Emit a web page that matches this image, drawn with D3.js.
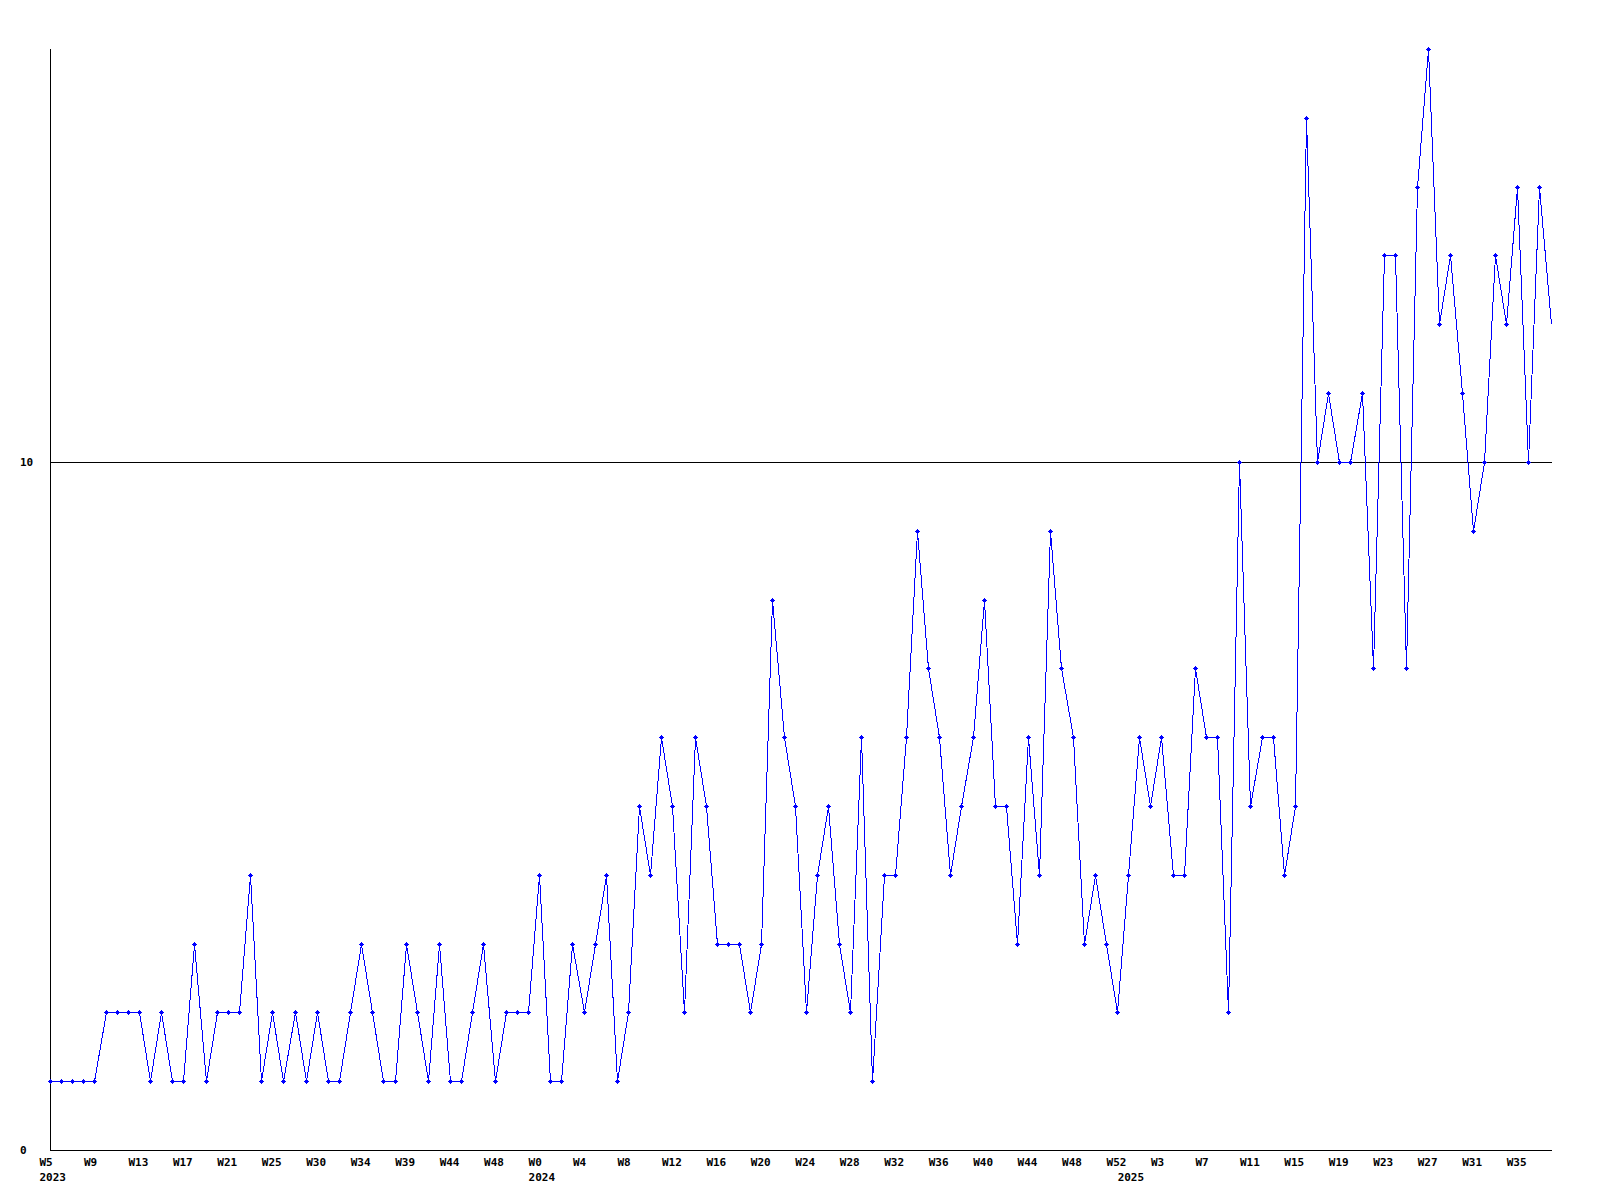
<!DOCTYPE html>
<html>
<head>
<meta charset="utf-8">
<script src="https://cdn.jsdelivr.net/npm/d3@7/dist/d3.min.js"></script>
<style>
  html, body { margin: 0; padding: 0; background: #ffffff; }
  svg { display: block; }
  text { font-family: "DejaVu Sans Mono", "Liberation Mono", monospace; font-weight: bold; font-size: 11px; fill: #000; }
</style>
</head>
<body>
<script>
// ---- data ----
const values = [
  1,1,1,1,1,2,2,2,2,1,
  2,1,1,3,1,2,2,2,4,1,
  2,1,2,1,2,1,1,2,3,2,
  1,1,3,2,1,3,1,1,2,3,
  1,2,2,2,4,1,1,3,2,3,
  4,1,2,5,4,6,5,2,6,5,
  3,3,3,2,3,8,6,5,2,4,
  5,3,2,6,1,4,4,6,9,7,
  6,4,5,6,8,5,5,3,6,4,
  9,7,6,3,4,3,2,4,6,5,
  6,4,4,7,6,6,2,10,5,6,
  6,4,5,15,10,11,10,10,11,7,
  13,13,7,14,16,12,13,11,9,10,
  13,12,14,10,14,12
];
const weekLabels = ["W5","W9","W13","W17","W21","W25","W30","W34","W39","W44","W48","W0",
  "W4","W8","W12","W16","W20","W24","W28","W32","W36","W40","W44","W48","W52","W3",
  "W7","W11","W15","W19","W23","W27","W31","W35"];
const weekStep = 4;
const yearLabels = ["2023","2024","2025"];
const yearIndex = [0, 44, 97];
const yTicks = [0, 10];
const yMax = 16;

(function () {
  // ---- layout ----
  const W = 1600, H = 1200;
  const mLeft = 50, mRight = 1551, mTop = 49, mBottom = 1150;

  const svg = d3.select("body").append("svg").attr("width", W).attr("height", H);

  const x = d3.scaleLinear().domain([0, values.length - 1]).range([mLeft, mRight - 0.5]);
  const y = d3.scaleLinear().domain([0, yMax]).range([mBottom, mTop]);

  const px = v => Math.round(x(v)) + 0.5;
  const py = v => Math.round(y(v)) + 0.5;

  // axes
  svg.append("line").attr("x1", mLeft + 0.5).attr("x2", mLeft + 0.5).attr("y1", mTop).attr("y2", mBottom + 1)
    .attr("stroke", "#000").attr("shape-rendering", "crispEdges");
  svg.selectAll("line.grid").data(yTicks).enter().append("line").attr("class", "grid")
    .attr("x1", mLeft).attr("x2", mRight + 1)
    .attr("y1", d => py(d)).attr("y2", d => py(d))
    .attr("stroke", "#000").attr("shape-rendering", "crispEdges");

  // y labels
  svg.selectAll("text.ylab").data(yTicks).enter().append("text").attr("class", "ylab")
    .attr("x", 20).attr("y", d => Math.round(y(d)) + 4).text(d => d);

  // x labels
  svg.selectAll("text.wlab").data(weekLabels).enter().append("text").attr("class", "wlab")
    .attr("x", (d, i) => x(i * weekStep) - 10.5).attr("y", 1166).text(d => d);
  svg.selectAll("text.ylbl").data(yearLabels).enter().append("text").attr("class", "ylbl")
    .attr("x", (d, i) => x(yearIndex[i]) - 10.5).attr("y", 1181).text(d => d);

  // line
  const line = d3.line().x((d, i) => px(i)).y(d => py(d));
  svg.append("path").datum(values).attr("d", line)
    .attr("fill", "none").attr("stroke", "#0000ff").attr("stroke-width", 1)
    .attr("shape-rendering", "crispEdges");

  // markers (plus shape)
  const mk = svg.append("g").attr("fill", "#0000ff").attr("shape-rendering", "crispEdges");
  const pts = values.slice(0, values.length - 1);
  pts.forEach((v, i) => {
    const cx = Math.round(x(i)), cy = Math.round(y(v));
    mk.append("rect").attr("x", cx - 2).attr("y", cy).attr("width", 5).attr("height", 1);
    mk.append("rect").attr("x", cx).attr("y", cy - 2).attr("width", 1).attr("height", 5);
    mk.append("rect").attr("x", cx - 1).attr("y", cy - 1).attr("width", 3).attr("height", 3);
  });
})();
</script>
</body>
</html>
